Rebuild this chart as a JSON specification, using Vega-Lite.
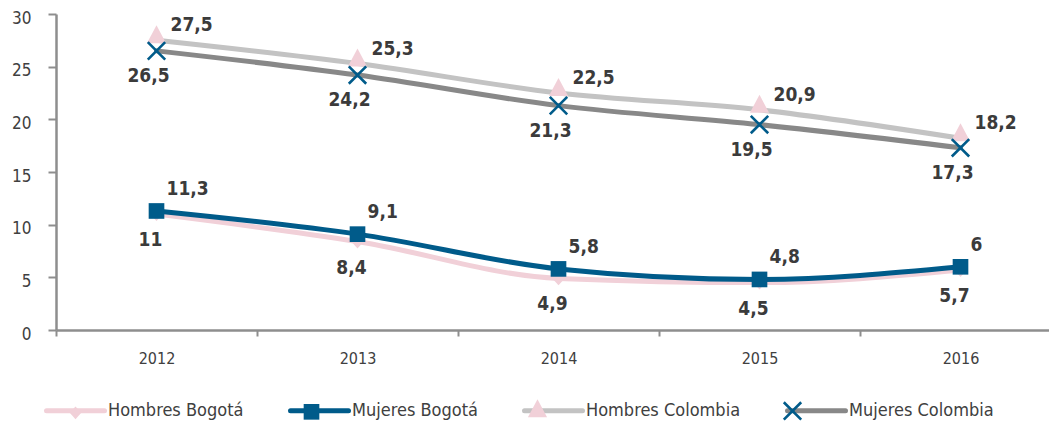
{
  "$schema": "https://vega.github.io/schema/vega-lite/v6.json",
  "width": 993,
  "height": 316,
  "autosize": {"type": "none"},
  "padding": {"left": 56, "top": 14, "right": 0, "bottom": 96},
  "config": {
    "view": {"stroke": null},
    "font": "DejaVu Sans Condensed",
    "locale": {"number": {"decimal": ",", "thousands": ".", "grouping": [3], "currency": ["", ""]}}
  },
  "data": {
    "values": [
      {"anio": "2012", "serie": "Hombres Bogotá", "valor": 11},
      {"anio": "2013", "serie": "Hombres Bogotá", "valor": 8.4},
      {"anio": "2014", "serie": "Hombres Bogotá", "valor": 4.9},
      {"anio": "2015", "serie": "Hombres Bogotá", "valor": 4.5},
      {"anio": "2016", "serie": "Hombres Bogotá", "valor": 5.7},
      {"anio": "2012", "serie": "Mujeres Bogotá", "valor": 11.3},
      {"anio": "2013", "serie": "Mujeres Bogotá", "valor": 9.1},
      {"anio": "2014", "serie": "Mujeres Bogotá", "valor": 5.8},
      {"anio": "2015", "serie": "Mujeres Bogotá", "valor": 4.8},
      {"anio": "2016", "serie": "Mujeres Bogotá", "valor": 6},
      {"anio": "2012", "serie": "Hombres Colombia", "valor": 27.5},
      {"anio": "2013", "serie": "Hombres Colombia", "valor": 25.3},
      {"anio": "2014", "serie": "Hombres Colombia", "valor": 22.5},
      {"anio": "2015", "serie": "Hombres Colombia", "valor": 20.9},
      {"anio": "2016", "serie": "Hombres Colombia", "valor": 18.2},
      {"anio": "2012", "serie": "Mujeres Colombia", "valor": 26.5},
      {"anio": "2013", "serie": "Mujeres Colombia", "valor": 24.2},
      {"anio": "2014", "serie": "Mujeres Colombia", "valor": 21.3},
      {"anio": "2015", "serie": "Mujeres Colombia", "valor": 19.5},
      {"anio": "2016", "serie": "Mujeres Colombia", "valor": 17.3}
    ]
  },
  "transform": [{"calculate": "datum.serie", "as": "serie_m"}],
  "encoding": {
    "x": {
      "field": "anio",
      "type": "ordinal",
      "scale": {"range": [0, 1005], "paddingInner": 0, "paddingOuter": 0},
      "axis": {
        "title": null,
        "labelAngle": 0,
        "labelFontSize": 16,
        "labelColor": "#404040",
        "labelPadding": 14,
        "domainColor": "#8e8e8e",
        "domainWidth": 2.5,
        "tickColor": "#8e8e8e",
        "tickWidth": 2,
        "tickSize": 6,
        "tickBand": "extent"
      }
    },
    "y": {
      "field": "valor",
      "type": "quantitative",
      "scale": {"domain": [0, 30], "nice": false},
      "axis": {
        "title": null,
        "values": [0, 5, 10, 15, 20, 25, 30],
        "grid": false,
        "labelFontSize": 17,
        "labelColor": "#404040",
        "labelPadding": 17,
        "labelOffset": 4,
        "domainColor": "#8e8e8e",
        "domainWidth": 2.5,
        "tickColor": "#8e8e8e",
        "tickWidth": 2,
        "tickSize": 8
      }
    }
  },
  "layer": [
    {
      "mark": {"type": "line", "interpolate": "monotone", "strokeWidth": 5, "strokeCap": "round"},
      "encoding": {
        "color": {
          "field": "serie",
          "type": "nominal",
          "sort": ["Hombres Bogotá", "Mujeres Bogotá", "Hombres Colombia", "Mujeres Colombia"],
          "scale": {"range": ["#f1d0d8", "#005b8a", "#c3c3c3", "#888888"]},
          "legend": {
            "title": null,
            "orient": "none",
            "direction": "horizontal",
            "legendX": -12,
            "legendY": 365,
            "padding": 0,
            "symbolType": "M-1,0L1,0",
            "symbolSize": 3364,
            "symbolStrokeWidth": 5,
            "labelFontSize": 18,
            "labelColor": "#404040",
            "labelOffset": 1,
            "columnPadding": 36,
            "symbolOpacity": 1,
            "encode": {"symbols": {"update": {"strokeCap": {"value": "round"}, "fill": {"value": "transparent"}}}}
          }
        },
        "order": {"field": "serie", "sort": "ascending"}
      }
    },
    {
      "mark": {"type": "point", "filled": true, "size": 3364, "opacity": 1, "strokeWidth": 0},
      "encoding": {
        "shape": {
          "field": "serie_m",
          "type": "nominal",
          "scale": {
            "domain": ["Hombres Bogotá", "Mujeres Bogotá", "Hombres Colombia", "Mujeres Colombia"],
            "range": [
              "M0,-0.2L0.2,0.02L0,0.24L-0.2,0.02Z",
              "M-0.27,-0.27L0.27,-0.27L0.27,0.27L-0.27,0.27Z",
              "M0,-0.52L0.33,0.1L-0.33,0.1Z",
              "M-0.332,-0.268L0.268,0.332L0.332,0.268L-0.268,-0.332ZM-0.268,0.332L0.332,-0.268L0.268,-0.332L-0.332,0.268Z"
            ]
          },
          "legend": {
            "title": null,
            "orient": "none",
            "direction": "horizontal",
            "legendX": -12,
            "legendY": 365,
            "padding": 0,
            "symbolSize": 3364,
            "symbolStrokeWidth": 5,
            "labelFontSize": 18,
            "labelOpacity": 0,
            "labelOffset": 1,
            "columnPadding": 36,
            "symbolOpacity": 1,
            "encode": {"symbols": {"update": {"stroke": {"value": "transparent"}}}}
          }
        },
        "fill": {
          "field": "serie_m",
          "type": "nominal",
          "scale": {
            "domain": ["Hombres Bogotá", "Mujeres Bogotá", "Hombres Colombia", "Mujeres Colombia"],
            "range": ["#f1d0d8", "#005b8a", "#f1d0d8", "#005b8a"]
          },
          "legend": {
            "title": null,
            "orient": "none",
            "direction": "horizontal",
            "legendX": -12,
            "legendY": 365,
            "padding": 0,
            "symbolSize": 3364,
            "symbolStrokeWidth": 5,
            "labelFontSize": 18,
            "labelOpacity": 0,
            "labelOffset": 1,
            "columnPadding": 36,
            "symbolOpacity": 1,
            "encode": {"symbols": {"update": {"stroke": {"value": "transparent"}}}}
          }
        }
      }
    },
    {
      "transform": [{"filter": "datum.serie == 'Hombres Colombia'"}],
      "mark": {"type": "text", "align": "left", "baseline": "middle", "dx": 14, "dy": -15, "fontSize": 19, "fontWeight": "bold", "color": "#3b3b3b"},
      "encoding": {"text": {"field": "valor", "type": "quantitative", "format": ".1~f"}}
    },
    {
      "transform": [{"filter": "datum.serie == 'Mujeres Colombia'"}],
      "mark": {"type": "text", "align": "center", "baseline": "middle", "dx": -8, "dy": 25, "fontSize": 19, "fontWeight": "bold", "color": "#3b3b3b"},
      "encoding": {"text": {"field": "valor", "type": "quantitative", "format": ".1~f"}}
    },
    {
      "transform": [{"filter": "datum.serie == 'Mujeres Bogotá'"}],
      "mark": {"type": "text", "align": "left", "baseline": "middle", "dx": 10, "dy": -22, "fontSize": 19, "fontWeight": "bold", "color": "#3b3b3b"},
      "encoding": {"text": {"field": "valor", "type": "quantitative", "format": ".1~f"}}
    },
    {
      "transform": [{"filter": "datum.serie == 'Hombres Bogotá'"}],
      "mark": {"type": "text", "align": "center", "baseline": "middle", "dx": -6, "dy": 26, "fontSize": 19, "fontWeight": "bold", "color": "#3b3b3b"},
      "encoding": {"text": {"field": "valor", "type": "quantitative", "format": ".1~f"}}
    }
  ]
}
